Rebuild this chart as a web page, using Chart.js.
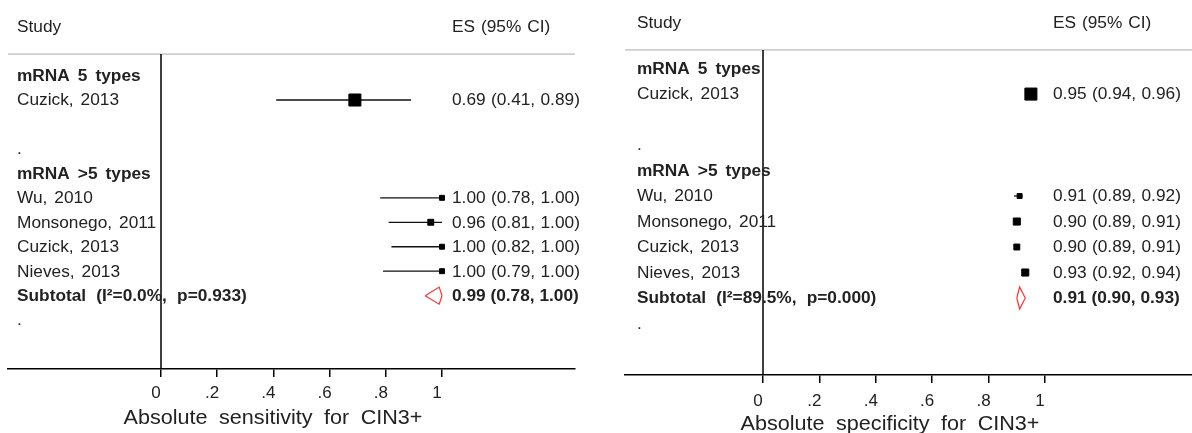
<!DOCTYPE html>
<html>
<head>
<meta charset="utf-8">
<title>Forest plots: mRNA sensitivity and specificity for CIN3+</title>
<script src="https://cdn.jsdelivr.net/npm/chart.js@4.4.1/dist/chart.umd.min.js"></script>
<style>
  html, body { margin: 0; padding: 0; background: #fff; }
  #wrap { position: relative; width: 1192px; height: 433px; overflow: hidden; }
  .panel { position: absolute; top: 0; width: 596px; height: 433px; }
</style>
</head>
<body>
<div id="wrap">
  <div class="panel" style="left:0"><canvas id="sensChart"></canvas></div>
  <div class="panel" style="left:596px"><canvas id="specChart"></canvas></div>
</div>
<script>
// rows (top to bottom): 0 group, 1 study, 3 ".", 4 group, 5-8 studies, 9 subtotal, 10 "."
const groupNames = ['mRNA 5 types', 'mRNA >5 types'];
const groupRows = [0, 4];
const studyNames = ['Cuzick, 2013', 'Wu, 2010', 'Monsonego, 2011', 'Cuzick, 2013', 'Nieves, 2013'];
const studyRows = [1, 5, 6, 7, 8];
const dotRows = [3, 10];
const subtotalRow = 9;

const tickValues = [0, 0.2, 0.4, 0.6, 0.8, 1];
const tickLabels = ['0', '.2', '.4', '.6', '.8', '1'];

// sensitivity panel
const sensEs = [0.69, 1.00, 0.96, 1.00, 1.00];
const sensLo = [0.41, 0.78, 0.81, 0.82, 0.79];
const sensHi = [0.89, 1.00, 1.00, 1.00, 1.00];
const sensWeight = [8.5, 3.5, 4.2, 3.5, 3.5];      // box radius (study weight)
const sensPooled = [0.99, 0.78, 1.00];             // es, lo, hi as printed
const sensDiamond = [0.94, 0.99, 1.00];            // lo, es, hi as drawn
const sensSubtotal = 'Subtotal (I²=0.0%, p=0.933)';
const sensTitle = 'Absolute sensitivity for CIN3+';

// specificity panel
const specEs = [0.95, 0.91, 0.90, 0.90, 0.93];
const specLo = [0.94, 0.89, 0.89, 0.89, 0.92];
const specHi = [0.96, 0.92, 0.91, 0.91, 0.94];
const specWeight = [8.5, 3.5, 5, 4.2, 5];
const specPooled = [0.91, 0.90, 0.93];
const specDiamond = [0.90, 0.91, 0.93];
const specSubtotal = 'Subtotal (I²=89.5%, p=0.000)';
const specTitle = 'Absolute specificity for CIN3+';

const FONT = "'Liberation Sans', Arial, Helvetica, sans-serif";
const STRETCH = 1.08;   // Stata text renders a bit wider than Arial
const INK = '#222';

Chart.defaults.font.family = FONT;

const fmt = v => v.toFixed(2);

function drawText(ctx, text, x, y, font, gap, align) {
    ctx.save();
    ctx.font = font;
    ctx.fillStyle = INK;
    ctx.textBaseline = 'middle';
    ctx.textAlign = align || 'left';
    ctx.wordSpacing = (gap || 0) + 'px';
    ctx.translate(x, y + 1);
    ctx.scale(STRETCH, 1);
    ctx.fillText(text, 0, 0);
    ctx.restore();
}

function textPlugin(p) {
    return {
        id: 'forestText',
        beforeDatasetsDraw(chart) {
            const {ctx, chartArea, scales: {y}} = chart;
            const ry = y.getPixelForValue(p.ruleRow);
            ctx.save();
            ctx.strokeStyle = '#cfcfcf';
            ctx.lineWidth = 1.8;
            ctx.beginPath();
            ctx.moveTo(chartArea.left, ry);
            ctx.lineTo(chartArea.right, ry);
            ctx.stroke();
            ctx.restore();
        },
        afterDraw(chart) {
            const {ctx, chartArea, scales: {x, y}} = chart;
            const yp = r => y.getPixelForValue(r);
            const normal = '16px ' + FONT;
            const bold = 'bold 16px ' + FONT;

            drawText(ctx, 'Study', p.labelX, yp(p.headerRow), normal, 2);
            drawText(ctx, 'ES (95% CI)', p.valueX, yp(p.headerRow), normal, 1);

            groupNames.forEach((g, i) => drawText(ctx, g, p.labelX, yp(groupRows[i]), bold, 3));
            dotRows.forEach(r => drawText(ctx, '.', p.labelX, yp(r), normal));

            studyNames.forEach((s, i) => {
                drawText(ctx, s, p.labelX, yp(studyRows[i]), normal, 2);
                const txt = `${fmt(p.es[i])} (${fmt(p.lo[i])}, ${fmt(p.hi[i])})`;
                drawText(ctx, txt, p.valueX, yp(studyRows[i]), normal, 0.5);
            });

            drawText(ctx, p.subtotal, p.labelX, yp(subtotalRow), bold, 5);
            const [pe, pl, ph] = p.pooled;
            drawText(ctx, `${fmt(pe)} (${fmt(pl)}, ${fmt(ph)})`, p.valueX, yp(subtotalRow), bold, 0);

            // axis title
            drawText(ctx, p.title, x.getPixelForValue(0) + p.titleShift, chartArea.bottom + p.titleGap,
                '20px ' + FONT, 5, 'center');
        }
    };
}

function makeForest(id, p) {
    const ciSets = studyRows.map((row, i) => ({
        type: 'line',
        data: [{x: p.lo[i], y: row}, {x: p.hi[i], y: row}],
        borderColor: '#111',
        borderWidth: 1.3,
        pointRadius: 0,
        order: 1
    }));

    const [dl, de, dh] = p.diamond;
    const h = p.diamondHalf;

    const datasets = [
        {
            type: 'scatter',
            data: studyRows.map((row, i) => ({x: p.es[i], y: row})),
            pointStyle: 'rect',
            pointRadius: p.weight,
            backgroundColor: '#000',
            borderColor: '#000',
            pointBorderWidth: 1,
            order: 0
        },
        {
            type: 'line',
            data: [
                {x: dl, y: subtotalRow},
                {x: de, y: subtotalRow - h},
                {x: dh, y: subtotalRow},
                {x: de, y: subtotalRow + h},
                {x: dl, y: subtotalRow}
            ],
            borderColor: '#ff3030',
            borderWidth: 1.2,
            pointRadius: 0,
            tension: 0,
            order: 0
        },
        ...ciSets,
        {
            // null line
            type: 'line',
            data: [{x: 0, y: p.ruleRow}, {x: 0, y: p.yMax}],
            borderColor: '#000',
            borderWidth: 1.5,
            pointRadius: 0,
            order: 2
        }
    ];

    return new Chart(document.getElementById(id), {
        type: 'scatter',
        data: { datasets },
        options: {
            responsive: true,
            maintainAspectRatio: false,
            animation: false,
            devicePixelRatio: 1,
            layout: { autoPadding: false, padding: { left: p.padLeft, right: p.padRight, top: 0, bottom: 0 } },
            plugins: { legend: { display: false }, tooltip: { enabled: false } },
            scales: {
                x: {
                    type: 'linear',
                    position: 'bottom',
                    min: p.xMin,
                    max: p.xMax,
                    afterBuildTicks: s => { s.ticks = tickValues.map(v => ({ value: v })); },
                    afterFit: s => { s.height = p.axisHeight; },
                    ticks: {
                        autoSkip: false,
                        maxRotation: 0,
                        padding: p.tickPad,
                        labelOffset: -5,
                        color: INK,
                        font: { size: 17 },
                        callback: (v, i) => tickLabels[i]
                    },
                    grid: {
                        drawOnChartArea: false,
                        drawTicks: true,
                        tickLength: 8,
                        color: '#000',
                        lineWidth: 1.5
                    },
                    border: { display: true, color: '#000', width: 1.5 }
                },
                y: {
                    type: 'linear',
                    reverse: true,
                    min: p.yMin,
                    max: p.yMax,
                    display: false
                }
            }
        },
        plugins: [textPlugin(p)]
    });
}

makeForest('sensChart', {
    es: sensEs, lo: sensLo, hi: sensHi, weight: sensWeight,
    pooled: sensPooled, diamond: sensDiamond, diamondHalf: 0.35,
    subtotal: sensSubtotal, title: sensTitle,
    xMin: -0.5445, xMax: 1.4733, padLeft: 8, padRight: 21,
    yMin: -3.09, yMax: 12.0, axisHeight: 64, tickPad: 6,
    headerRow: -2.02, ruleRow: -0.88,
    labelX: 17, valueX: 452, titleShift: 112, titleGap: 48
});

makeForest('specChart', {
    es: specEs, lo: specLo, hi: specHi, weight: specWeight,
    pooled: specPooled, diamond: specDiamond, diamondHalf: 0.43,
    subtotal: specSubtotal, title: specTitle,
    xMin: -0.4894, xMax: 1.5213, padLeft: 29, padRight: 0,
    yMin: -2.69, yMax: 12.02, axisHeight: 58, tickPad: 8,
    headerRow: -1.82, ruleRow: -0.73,
    labelX: 41, valueX: 457, titleShift: 127, titleGap: 48
});
</script>
</body>
</html>
